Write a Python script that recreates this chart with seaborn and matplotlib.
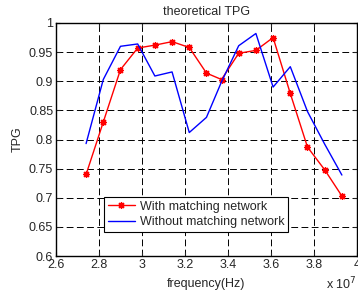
import numpy as np
import pandas as pd
import seaborn as sns
import matplotlib
matplotlib.use("Agg")
import matplotlib.pyplot as plt
from matplotlib.ticker import FormatStrFormatter

# data (frequency in units of 1e7 Hz)
freq = [2.74, 2.82, 2.90, 2.98, 3.06, 3.14, 3.22, 3.30,
        3.37, 3.45, 3.53, 3.61, 3.69, 3.77, 3.85, 3.93]
tpg_with = [0.740, 0.830, 0.920, 0.957, 0.962, 0.968, 0.958, 0.914,
            0.903, 0.948, 0.953, 0.975, 0.879, 0.787, 0.748, 0.703]
tpg_without = [0.793, 0.903, 0.960, 0.964, 0.909, 0.916, 0.812, 0.838,
               0.899, 0.961, 0.982, 0.890, 0.925, 0.848, 0.792, 0.739]
labels = ["With matching network", "Without matching network"]

df = pd.DataFrame({
    "freq": freq * 2,
    "TPG": tpg_with + tpg_without,
    "series": [labels[0]] * len(freq) + [labels[1]] * len(freq),
})

sns.set_style("ticks")
plt.rcParams["font.family"] = ["Liberation Sans", "DejaVu Sans"]
plt.rcParams["font.size"] = 9
plt.rcParams["xtick.direction"] = "in"
plt.rcParams["ytick.direction"] = "in"

fig = plt.figure(figsize=(3.58, 2.96), dpi=100)
ax = fig.add_axes([0.1564, 0.1351, 0.8406, 0.7872])

sns.lineplot(data=df, x="freq", y="TPG", hue="series",
             palette={labels[0]: "red", labels[1]: "blue"},
             style="series", markers={labels[0]: (8, 2, 0), labels[1]: ""},
             dashes=False, markersize=5, markeredgewidth=0.9,
             markeredgecolor="red", linewidth=1.0, sort=False, ax=ax)

ax.set_xlim(2.6, 4.0)
ax.set_ylim(0.6, 1.0)
ax.set_xticks(np.arange(2.6, 4.01, 0.2))
ax.set_yticks(np.arange(0.6, 1.001, 0.05))
ax.xaxis.set_major_formatter(FormatStrFormatter("%g"))
ax.yaxis.set_major_formatter(FormatStrFormatter("%g"))
ax.tick_params(top=True, right=True, length=3, width=0.8, labelsize=9, pad=2)
ax.grid(True, color="black", linestyle=(0, (7, 3.5)), linewidth=0.7)
for s in ax.spines.values():
    s.set_color("black")
    s.set_linewidth(1.0)

ax.set_title("theoretical TPG", fontsize=9, pad=6)
ax.set_xlabel("frequency(Hz)", fontsize=9, labelpad=5)
ax.set_ylabel("TPG", fontsize=9, labelpad=4)
ax.text(1.0, -0.143, r"x 10$^7$", transform=ax.transAxes,
        ha="right", va="baseline", fontsize=9)

leg = ax.legend(loc="lower left", bbox_to_anchor=(0.159, 0.103),
                borderaxespad=0, fancybox=False, framealpha=1,
                edgecolor="black", fontsize=9, handlelength=2.2,
                borderpad=0.3, labelspacing=0.3, handletextpad=0.4)
leg.get_frame().set_linewidth(0.8)

fig.savefig("out.png", dpi=100)
